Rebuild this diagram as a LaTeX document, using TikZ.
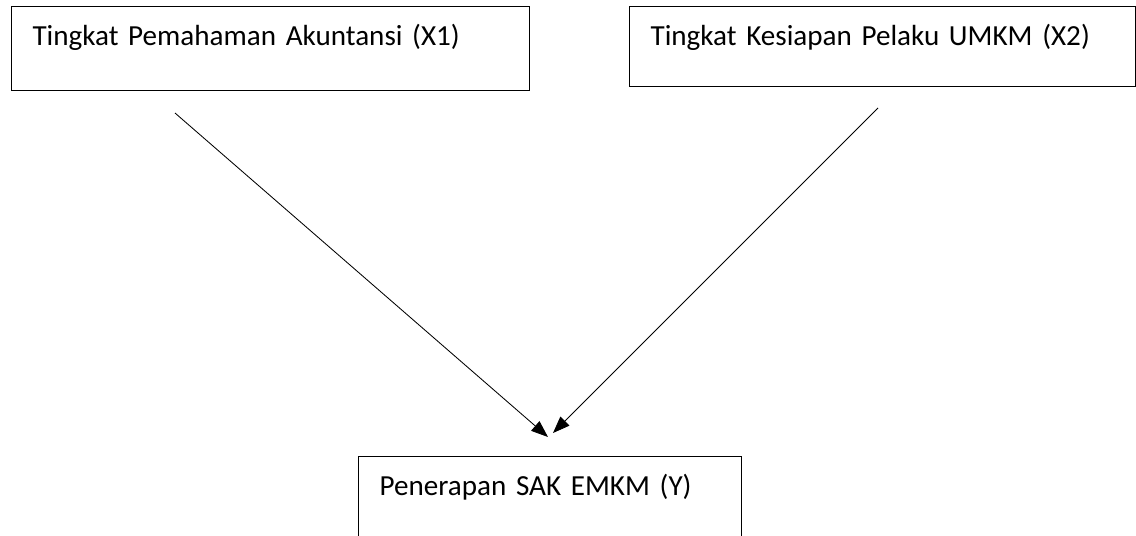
\documentclass[tikz,border=0pt]{standalone}
\usepackage{fontspec}
\setmainfont{Carlito}
\usepackage{tikz}
\usetikzlibrary{arrows.meta, positioning}

\begin{document}
\begin{tikzpicture}[x=0.025cm, y=-0.025cm,
    every node/.style={rectangle, draw, line width=0.8pt, anchor=north west, inner xsep=0.525cm, inner ysep=0pt, text height=0.975cm, align=left, font=\fontsize{20.7pt}{25pt}\selectfont},
    arrowline/.style={line width=0.6pt, -{Triangle[length=12pt,width=9pt]}}]
    \useasboundingbox (0,0) rectangle (1136,535);
    % 画三个框框
    \node[text width=11.9cm, text depth=1.125cm] (x1) at (11,6) {Tingkat Pemahaman Akuntansi (X1)};
    \node[text width=11.6cm, text depth=1.025cm] (x2) at (629,6) {Tingkat Kesiapan Pelaku UMKM (X2)};
    \node[text width=8.525cm, text depth=2.5cm] (y) at (358,456) {Penerapan SAK EMKM (Y)};

    % 箭头的起点和终点
    \coordinate (s1) at (175,113);
    \coordinate (e1) at (548,437);
    \coordinate (s2) at (878,108);
    \coordinate (e2) at (553,433);
    \draw[arrowline] (s1) -- (e1);
    \draw[arrowline] (s2) -- (e2);
\end{tikzpicture}
\end{document}
